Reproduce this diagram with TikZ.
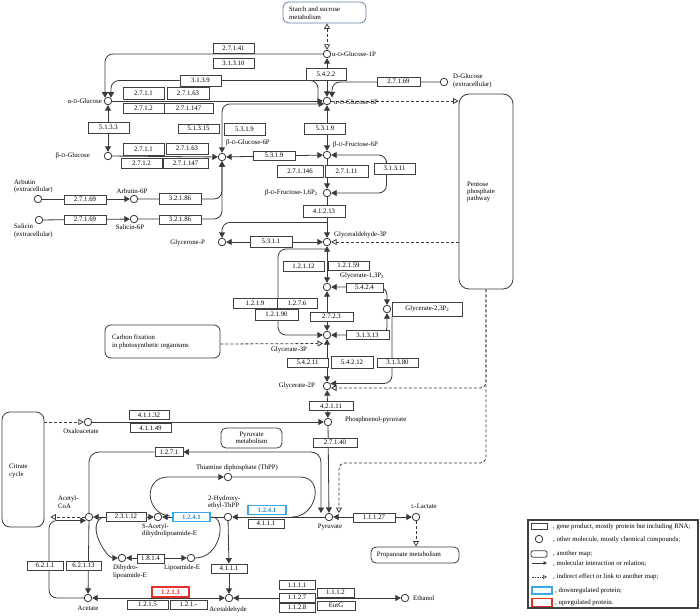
\documentclass[tikz,border=0pt]{standalone}
\usepackage{fontspec}
\setmainfont{Liberation Serif}
\usetikzlibrary{arrows.meta,backgrounds,calc}
\definecolor{linec}{HTML}{3A3A3A}
\definecolor{boxc}{HTML}{404040}
\definecolor{blueb}{HTML}{3AA8E8}
\definecolor{redb}{HTML}{E8302A}
\definecolor{starchc}{HTML}{6A7FA5}
\newcommand{\fsz}{\fontsize{6.8}{7.4}\selectfont}
\newcommand{\Dsc}{{\fontsize{5.3}{6}\selectfont D}}
\newcommand{\Lsc}{{\fontsize{5.3}{6}\selectfont L}}
\tikzset{
  lbl/.style={font=\fsz, inner sep=0pt},
  enz/.style={draw=boxc, fill=white, line width=0.8pt, minimum width=41pt, minimum height=10pt, inner sep=0pt, font=\fsz},
  cpd/.style={circle, draw=linec, fill=white, line width=0.8pt, minimum size=7.5pt, inner sep=0pt},
  mapbox/.style={draw=linec, fill=white, rounded corners=6pt, line width=0.8pt, inner sep=0pt},
  conn/.style={draw=linec, line width=0.8pt},
  arr/.style={conn, -{Triangle[length=5.5pt,width=6pt]}},
  arrb/.style={conn, {Triangle[length=5.5pt,width=6pt]}-{Triangle[length=5.5pt,width=6pt]}},
  dsh/.style={conn, dash pattern=on 3pt off 2pt, -{Triangle[open,length=5.5pt,width=6pt]}},
  dshb/.style={conn, dash pattern=on 3pt off 2pt, {Triangle[open,length=5.5pt,width=6pt]}-{Triangle[open,length=5.5pt,width=6pt]}},
  blu/.style={enz, draw=blueb, line width=1.2pt, text=blueb!85!black, font=\fsz\bfseries},
  rd/.style={enz, draw=redb, line width=1.2pt, text=redb, font=\fsz\bfseries},
}
\begin{document}
\begin{tikzpicture}[x=1pt,y=-1pt]
\useasboundingbox (0,0) rectangle (700,615);
% ---------- maps ----------
\node[mapbox, draw=starchc, minimum width=83pt, minimum height=21pt] (starch) at (324.5,12.5) {};
\node[lbl, anchor=west, align=left] (starchT) at (289,13) {Starch and sucrose\\metabolism};
\node[mapbox, rounded corners=10pt, minimum width=54pt, minimum height=195pt] (ppp) at (486,191.5) {};
\node[lbl, anchor=west, align=left] (pppT) at (467,192) {Pentose\\phosphate\\pathway};
\node[mapbox, minimum width=115pt, minimum height=33pt] (carbon) at (162.5,341.5) {};
\node[lbl, anchor=west, align=left] (carbonT) at (112,342) {Carbon fixation\\in photosynthetic organisms};
\node[mapbox, rounded corners=8pt, minimum width=42pt, minimum height=115pt] (citrate) at (23,469.5) {};
\node[lbl, anchor=west, align=left] (citrateT) at (9,471) {Citrate\\cycle};
\node[mapbox, rounded corners=5pt, minimum width=61pt, minimum height=20pt] (pyrmet) at (251.5,438) {};
\node[lbl, align=center] (pyrmetT) at (251.5,438) {Pyruvate\\metabolism};
\node[mapbox, rounded corners=5pt, minimum width=88pt, minimum height=16pt] (propa) at (415,555) {};
\node[lbl] (propaT) at (409,555) {Propanoate metabolism};
% ---------- compounds ----------
\node[cpd] (aglc) at (108,101) {};
\node[cpd] (bglc) at (108,156) {};
\node[cpd] (g1p) at (327,54) {};
\node[cpd] (g6p) at (327,101) {};
\node[cpd] (bg6p) at (222,157) {};
\node[cpd] (f6p) at (327,155) {};
\node[cpd] (dglc) at (444,82) {};
\node[cpd] (fbp) at (327,193) {};
\node[cpd] (arb) at (38,199) {};
\node[cpd] (arb6p) at (134,199) {};
\node[cpd] (sal) at (39,220) {};
\node[cpd] (sal6p) at (134,219) {};
\node[cpd] (gnp) at (222,242) {};
\node[cpd] (ga3p) at (327,242) {};
\node[cpd] (g13p) at (327,287) {};
\node[cpd] (g23p) at (387,309) {};
\node[cpd] (g3p) at (327,335) {};
\node[cpd] (g2p) at (327,386) {};
\node[cpd] (pep) at (328,422) {};
\node[cpd] (pyr) at (329,517) {};
\node[cpd] (oaa) at (88,422) {};
\node[cpd] (lac) at (416,517) {};
\node[cpd] (thpp) at (228,477) {};
\node[cpd] (hethpp) at (228,517) {};
\node[cpd] (sacet) at (158,517) {};
\node[cpd] (dihy) at (122,558) {};
\node[cpd] (lipo) at (191,558) {};
\node[cpd] (acoa) at (89,517) {};
\node[cpd] (acet) at (88,598) {};
\node[cpd] (acald) at (229,598) {};
\node[cpd] (etoh) at (405,598) {};
% ---------- compound labels ----------
\node[lbl, anchor=east] (Laglc) at (102,101) {α-\Dsc-Glucose};
\node[lbl, anchor=east] (Lbglc) at (90,156) {β-\Dsc-Glucose};
\node[lbl, anchor=west] (Lg1p) at (332,54) {α-\Dsc-Glucose-1P};
\node[lbl, anchor=west] (Lg6p) at (334,102) {α-\Dsc-Glucose-6P};
\node[lbl] (Lbg6p) at (248,143) {β-\Dsc-Glucose-6P};
\node[lbl, anchor=west] (Lf6p) at (333,145) {β-\Dsc-Fructose-6P};
\node[lbl, anchor=west, align=left] (Ldglc) at (453,81) {D-Glucose\\(extracellular)};
\node[lbl, anchor=east] (Lfbp) at (318,193) {β-\Dsc-Fructose-1,6P\textsubscript{2}};
\node[lbl, anchor=west, align=left] (Larb) at (14,186.5) {Arbutin\\(extracellular)};
\node[lbl] (Larb6p) at (132,191) {Arbutin-6P};
\node[lbl, anchor=west, align=left] (Lsal) at (14,231) {Salicin\\(extracellular)};
\node[lbl] (Lsal6p) at (130,227) {Salicin-6P};
\node[lbl, anchor=east] (Lgnp) at (205,243) {Glycerone-P};
\node[lbl, anchor=west] (Lga3p) at (334,235) {Glyceraldehyde-3P};
\node[lbl, anchor=west] (Lg13p) at (340,276) {Glycerate-1,3P\textsubscript{2}};
\node[draw=boxc, line width=0.8pt, minimum width=70pt, minimum height=14pt, inner sep=0pt, font=\fsz, anchor=west] (g23pbox) at (392,309) {Glycerate-2,3P\textsubscript{2}};
\node[lbl] (Lg3p) at (289,350) {Glycerate-3P};
\node[lbl, anchor=east] (Lg2p) at (315,386) {Glycerate-2P};
\node[lbl, anchor=west] (Lpep) at (345,420) {Phosphoenol-pyruvate};
\node[lbl] (Lpyr) at (330,527) {Pyruvate};
\node[lbl] (Loaa) at (81,431) {Oxaloacetate};
\node[lbl] (Llac) at (424,506) {\Lsc-Lactate};
\node[lbl] (Lthpp) at (237,468) {Thiamine diphosphate (ThPP)};
\node[lbl, anchor=west, align=left] (Lhethpp) at (208,502.5) {2-Hydroxy-\\ethyl-ThPP};
\node[lbl, anchor=west, align=left] (Lsacet) at (142,530.5) {S-Acetyl-\\dihydrolipoamide-E};
\node[lbl, anchor=west, align=left] (Ldihy) at (113,572) {Dihydro-\\lipoamide-E};
\node[lbl] (Llipo) at (182,568) {Lipoamide-E};
\node[lbl, anchor=west, align=left] (Lacoa) at (58,502) {Acetyl-\\CoA};
\node[lbl] (Lacet) at (88,608) {Acetate};
\node[lbl] (Lacald) at (228,610) {Acetaldehyde};
\node[lbl, anchor=west] (Letoh) at (413,598) {Ethanol};
% ---------- enzymes ----------
\node[enz] (e1) at (233.5,48) {2.7.1.41};
\node[enz] (e2) at (233.5,63) {3.1.3.10};
\node[enz, minimum height=11pt] (e3) at (200.5,80.5) {3.1.3.9};
\node[enz, minimum height=12pt] (e4) at (143.5,93) {2.7.1.1};
\node[enz, minimum width=42pt, minimum height=12pt] (e5) at (188,93) {2.7.1.63};
\node[enz] (e6) at (143.5,108) {2.7.1.2};
\node[enz, minimum width=49pt] (e7) at (188.5,108) {2.7.1.147};
\node[enz, minimum height=11pt] (e8) at (108.5,127.5) {5.1.3.3};
\node[enz, minimum height=9pt] (e9) at (198.5,128.5) {5.1.3.15};
\node[enz, minimum height=12pt] (e10) at (244.5,129.5) {5.3.1.9};
\node[enz, minimum width=40pt, minimum height=12pt] (e11) at (326,74) {5.4.2.2};
\node[enz, minimum width=43pt, minimum height=9pt] (e12) at (398.5,81.5) {2.7.1.69};
\node[enz, minimum height=11pt] (e13) at (325,128.5) {5.3.1.9};
\node[enz, minimum height=12pt] (e14) at (143.5,149) {2.7.1.1};
\node[enz, minimum width=42pt, minimum height=11pt] (e15) at (187,148.5) {2.7.1.63};
\node[enz] (e16) at (141.5,163) {2.7.1.2};
\node[enz, minimum width=45pt] (e17) at (185.5,163) {2.7.1.147};
\node[enz, minimum width=42pt, minimum height=9pt] (e18) at (274,155.5) {5.3.1.9};
\node[enz, minimum width=46pt, minimum height=12pt] (e19) at (300,171) {2.7.1.146};
\node[enz, minimum width=43pt, minimum height=12pt] (e20) at (346.5,171) {2.7.1.11};
\node[enz, minimum height=11pt] (e21) at (394.5,168.5) {3.1.3.11};
\node[enz, minimum width=42pt, minimum height=9pt] (e22) at (85,199.5) {2.7.1.69};
\node[enz, minimum width=42pt, minimum height=11pt] (e23) at (180,198.5) {3.2.1.86};
\node[enz, minimum width=42pt, minimum height=9pt] (e24) at (85,219.5) {2.7.1.69};
\node[enz, minimum width=42pt, minimum height=9pt] (e25) at (180,219.5) {3.2.1.86};
\node[enz, minimum width=42pt, minimum height=12pt] (e26) at (324,211) {4.1.2.13};
\node[enz, minimum width=42pt, minimum height=11pt] (e27) at (271,241.5) {5.3.1.1};
\node[enz] (e28) at (303.5,266) {1.2.1.12};
\node[enz, minimum height=9pt] (e29) at (348.5,265.5) {1.2.1.59};
\node[enz, minimum width=37pt, minimum height=9pt] (e30) at (364.5,287.5) {5.4.2.4};
\node[enz, minimum width=44pt] (e31) at (255,303) {1.2.1.9};
\node[enz, minimum width=40pt] (e32) at (297,303) {1.2.7.6};
\node[enz, minimum width=43pt, minimum height=11pt] (e33) at (276.5,314.5) {1.2.1.90};
\node[enz, minimum width=43pt, minimum height=9pt] (e34) at (331.5,316.5) {2.7.2.3};
\node[enz, minimum width=43pt, minimum height=9pt] (e35) at (367.5,335) {3.1.3.13};
\node[enz, minimum height=9pt] (e36) at (307.5,362.5) {5.4.2.11};
\node[enz, minimum width=42pt, minimum height=12pt] (e37) at (352,362) {5.4.2.12};
\node[enz, minimum height=9pt] (e38) at (397.5,362.5) {3.1.3.80};
\node[enz, minimum width=44pt, minimum height=8.5pt] (e39) at (331,406) {4.2.1.11};
\node[enz, minimum width=44pt, minimum height=9pt] (e40) at (335,442.5) {2.7.1.40};
\node[enz, minimum width=40pt, minimum height=8.5pt] (e41) at (149,415) {4.1.1.32};
\node[enz, minimum width=41pt, minimum height=8.5pt] (e42) at (150.5,428) {4.1.1.49};
\node[enz, minimum width=28pt, minimum height=8.5pt] (e43) at (169,452) {1.2.7.1};
\node[blu, minimum width=38pt, minimum height=8.5pt] (e44) at (267,510) {1.2.4.1};
\node[enz, minimum width=36pt, minimum height=9pt] (e45) at (266,523.5) {4.1.1.1};
\node[blu, minimum width=37pt, minimum height=9pt] (e46) at (191.5,517) {1.2.4.1};
\node[enz, minimum width=40pt, minimum height=9pt] (e47) at (126,516.5) {2.3.1.12};
\node[enz, minimum width=27pt, minimum height=9pt] (e48) at (150.5,558.5) {1.8.1.4};
\node[enz, minimum width=36pt, minimum height=9pt] (e49) at (229,568.5) {4.1.1.1};
\node[enz, minimum width=42pt, minimum height=9pt] (e50) at (374,517.5) {1.1.1.27};
\node[enz, minimum width=36pt, minimum height=9pt] (e51) at (45,565.5) {6.2.1.1};
\node[enz, minimum width=35pt, minimum height=9pt] (e52) at (83.5,565.5) {6.2.1.13};
\node[rd, minimum width=37pt, minimum height=10pt] (e53) at (170.5,592) {1.2.1.3};
\node[enz, minimum width=41pt, minimum height=9pt] (e54) at (147.5,604.5) {1.2.1.5};
\node[enz, minimum width=37pt, minimum height=9pt] (e55) at (188.5,604.5) {1.2.1.-};
\node[enz, minimum width=36pt, minimum height=8.5pt] (e56) at (297,585) {1.1.1.1};
\node[enz, minimum width=36pt, minimum height=9pt] (e57) at (297,597.5) {1.1.2.7};
\node[enz, minimum width=36pt, minimum height=9pt] (e58) at (297,607.5) {1.1.2.8};
\node[enz, minimum width=37pt, minimum height=9pt] (e59) at (335.5,592.5) {1.1.1.2};
\node[enz, minimum width=38pt, minimum height=9pt] (e60) at (336,605.5) {EutG};
% ---------- legend ----------
\node[draw=black!75, line width=1.3pt, minimum width=170pt, minimum height=88pt, inner sep=0pt] (legend) at (613,564) {};
\node[enz, minimum width=16pt, minimum height=5.5pt] (lg1) at (539,526.5) {};
\node[lbl, anchor=west] (lt1) at (553,527) {, gene product, mostly protein but including RNA;};
\node[cpd] (lg2) at (539,539) {};
\node[lbl, anchor=west] (lt2) at (553,540) {, other molecule, mostly chemical compounds;};
\node[mapbox, rounded corners=2pt, minimum width=16pt, minimum height=6.5pt] (lg3) at (539,554) {};
\node[lbl, anchor=west] (lt3) at (553,554) {, another map;};
\coordinate (lg4a) at (532,563);
\coordinate (lg4b) at (547,563);
\node[lbl, anchor=west] (lt4) at (553,563.5) {, molecular interaction or relation;};
\coordinate (lg5a) at (532,577);
\coordinate (lg5b) at (547,577);
\node[lbl, anchor=west] (lt5) at (553,577) {, indirect effect or link to another map;};
\node[draw=blueb, line width=1.2pt, minimum width=20pt, minimum height=7pt, inner sep=0pt] (lg6) at (542,590.5) {};
\node[lbl, anchor=west] (lt6) at (555,590.5) {, downregulated protein;};
\node[draw=redb, line width=1.2pt, minimum width=20pt, minimum height=8.5pt, inner sep=0pt] (lg7) at (542,602.5) {};
\node[lbl, anchor=west] (lt7) at (555,603) {, upregulated protein.};
\draw[conn, -{Triangle[length=3.5pt,width=3.5pt]}] (lg4a) -- (lg4b);
\draw[conn, line width=0.6pt, dash pattern=on 1.5pt off 1pt, -{Triangle[open,length=4pt,width=4pt]}] (lg5a) -- (lg5b);
% ---------- connectors ----------
\begin{pgfonlayer}{background}
\draw[arr, rounded corners=8pt] (g1p) -| ($(aglc)+(-3,-3.3)$);
\draw[arr, rounded corners=8pt] ($(g6p)+(-9,-3)$) |- (e3) -| ($(aglc)+(3,-3.3)$);
\draw[arr] (aglc) -- (g6p);
\draw[arrb] (g1p) -- (g6p);
\draw[arr, rounded corners=8pt] (dglc) -| ($(g6p)+(5,-3.5)$);
\draw[dsh] (g6p) -- (ppp.west |- g6p);
\draw[dshb] (starch.south -| g1p) -- (g1p);
\draw[arrb] (aglc) -- (bglc);
\draw[arr] (bglc) -- (bg6p);
\draw[arrb, rounded corners=8pt] (g6p.south west) -| (bg6p);
\draw[arrb] (bg6p) -- (f6p);
\draw[arrb] (g6p) -- (f6p);
\draw[arr] (f6p) -- (fbp);
\draw[arrb, rounded corners=8pt] (fbp) -| ($(e21)+(-8,0)$) |- (f6p);
\draw[arr] (arb) -- (arb6p);
\draw[arr, rounded corners=8pt] (arb6p) -| (bg6p);
\draw[arr] (sal) -- (sal6p);
\draw[arr, rounded corners=8pt] (sal6p) -| (bg6p);
\draw[arr] (fbp) -- (ga3p);
\draw[arr, rounded corners=8pt] ($(fbp)!0.6!(ga3p)$) -| (gnp);
\draw[arrb] (gnp) -- (ga3p);
\draw[dsh] (ppp.west |- ga3p) -- (ga3p);
\draw[arrb] (ga3p) -- (g13p);
\draw[arr, rounded corners=8pt] ($(ga3p)+(0,7)$) -| ($(ga3p)!0.5!(g3p)+(-49,0)$) |- (g3p);
\draw[arrb] (g13p) -- (g3p);
\draw[arrb, rounded corners=8pt] (g13p) -| (g23p);
\draw[arrb, rounded corners=8pt] (g23p) |- (g3p);
\draw[arr, rounded corners=8pt] (g23pbox.south west) |- ($(g2p)+(3.5,-2.5)$);
\draw[arrb] (g3p) -- (g2p);
\draw[dsh] ($(carbon.east)+(0,2.5)$) -- ($(g3p)+(-4,8.5)$);
\draw[dsh, rounded corners=6pt] (ppp.south) |- ($(g2p)+(4,2)$);
\draw[dsh, rounded corners=6pt] (ppp.south) |- ($(pyr)+(10,-54)$) -- ($(pyr)+(10,-4)$);
\draw[arrb] (g2p) -- (pep);
\draw[arr] (oaa) -- (pep);
\draw[dsh] (citrate.east |- oaa) -- (oaa);
\draw[arr] (pep) -- (pyr);
\draw[arrb, rounded corners=10pt] (acoa) |- (e43) -| ($(pyr)+(-8,-4)$);
\draw[arrb] (pyr) -- (lac);
\draw[dsh] (lac) -- (lac |- propa.north);
\draw[arr] (pyr) -- (hethpp);
\draw[conn] (thpp) -- ($(thpp)+(72,0)$) .. controls +(25,0) and +(25,0) .. ($(hethpp)+(64,0)$);
\draw[arr] ($(hethpp)+(-58,-1)$) .. controls +(-25,-2) and +(-25,0) .. ($(thpp)+(-60,0)$) -- (thpp);
\draw[arr] (hethpp) -- (sacet);
\draw[arrb] (sacet) -- (acoa);
\draw[arr] (hethpp) -- (e49);
\draw[arr] (e49) -- (acald);
\draw[conn] (lipo) .. controls +(30,0) and +(15,0) .. ($(hethpp)+(-16,0)$);
\draw[arrb] (dihy) -- (lipo);
\draw[arr] ($(acoa)+(14,0)$) .. controls +(-18,8) and +(-15,0) .. (dihy);
\draw[arr] (acoa) -- (acet);
\draw[arr, rounded corners=8pt] (acet) -| ($(acoa)+(-40,3.5)$) -- ($(acoa)+(-3.2,3.5)$);
\draw[dsh] (acoa) -- ($(citrate.east |- acoa)+(6,0)$);
\draw[arrb] (acald) -- (acet);
\draw[arrb] (acald) -- (etoh);
\end{pgfonlayer}
\end{tikzpicture}
\end{document}
